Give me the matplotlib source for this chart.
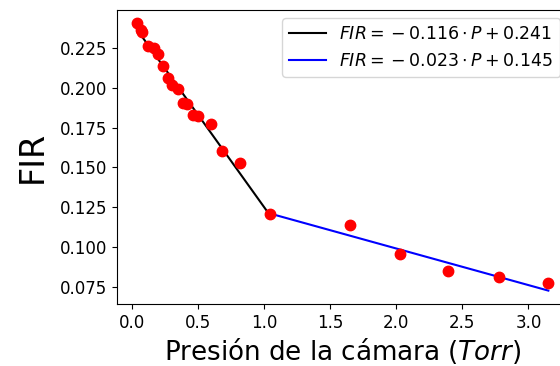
import numpy as np
import matplotlib
matplotlib.use("Agg")
import matplotlib.pyplot as plt

presion = [0.040, 0.071, 0.078, 0.121, 0.167, 0.197, 0.237, 0.275, 0.306,
           0.349, 0.389, 0.420, 0.463, 0.501, 0.597, 0.685, 0.817, 1.042,
           1.652, 2.026, 2.395, 2.777, 3.151]
fir = [0.2408, 0.2362, 0.2348, 0.2264, 0.2248, 0.2212, 0.2137, 0.2060, 0.2018,
       0.1991, 0.1907, 0.1899, 0.1830, 0.1824, 0.1772, 0.1601, 0.1528, 0.1204,
       0.1137, 0.0953, 0.0851, 0.0811, 0.0776]

# ajustes lineales por tramos
m1, b1 = -0.116, 0.241
m2, b2 = -0.023, 0.145
corte = 1.042


def main():
    P = np.array(presion)
    F = np.array(fir)

    fig = plt.figure(figsize=(5.6, 3.66), dpi=100)
    ax = fig.add_axes([116.7 / 560, 1 - 304 / 366, (568.9 - 116.7) / 560, (304 - 9.5) / 366])

    p1 = P[P <= corte]
    p2 = P[P >= corte]
    ax.plot(p1, m1 * p1 + b1, color="k", lw=1.5,
            label=r"$FIR={}-0.116\cdot P+0.241$")
    ax.plot(p2, m2 * p2 + b2, color="b", lw=1.5,
            label=r"$FIR={}-0.023\cdot P+0.145$")
    ax.plot(P, F, "o", color="r", ms=7.5, zorder=3)

    ax.set_xlabel(r"Presión de la cámara ($Torr$)", fontsize=18.8, labelpad=3)
    ax.set_ylabel("FIR", fontsize=24, labelpad=8)
    ax.tick_params(labelsize=12)
    ax.legend(loc="upper right", fontsize=12.5, handlelength=2.1)

    fig.savefig("out.png", dpi=100)


if __name__ == "__main__":
    main()
